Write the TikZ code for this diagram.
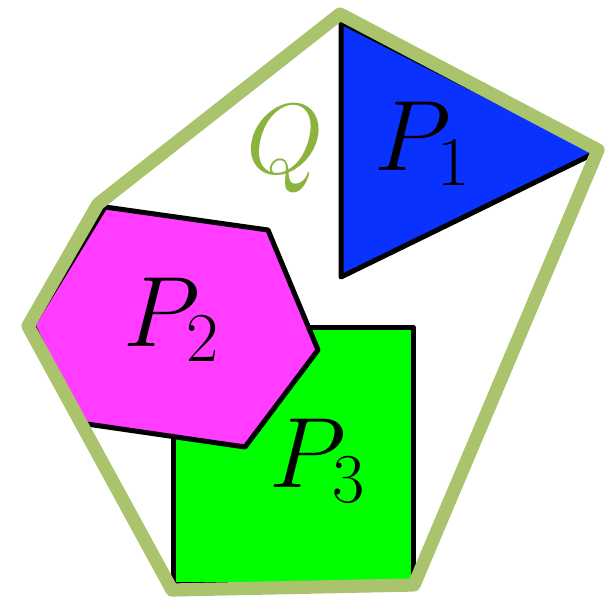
\RequirePackage{fix-cm}
\documentclass[tikz,border=0pt]{standalone}
\usetikzlibrary{calc}
\definecolor{hullc}{HTML}{A9C46C}
\definecolor{qc}{HTML}{8DB33F}
\definecolor{bluec}{HTML}{0A32FF}
\definecolor{magc}{HTML}{FF3CFF}
\definecolor{greenc}{HTML}{00FF00}
\tikzset{
  poly/.style={draw=black,line width=2.5pt,line join=round},
  hull/.style={draw=hullc,line width=6.6pt,line join=round},
  lab/.style={inner sep=0pt,anchor=base west,font=\fontsize{50}{52}\selectfont}
}
\begin{document}
\begin{tikzpicture}[x=0.5pt,y=-0.5pt]
\useasboundingbox (0,0) rectangle (610,599);
% P1 triangle
\coordinate (t1) at (341,22);
\coordinate (t2) at (597,152);
\coordinate (t3) at (341,277);
\filldraw[poly,fill=bluec] (t1) -- (t2) -- (t3) -- cycle;
% P3 square
\coordinate (s1) at (173,327);
\coordinate (s2) at (413,327);
\coordinate (s3) at (413,584);
\coordinate (s4) at (173,584);
\filldraw[poly,fill=greenc] (s1) -- (s2) -- (s3) -- (s4) -- cycle;
% P2 hexagon
\coordinate (h1) at (105,207);
\coordinate (h2) at (268,230);
\coordinate (h3) at (318,350);
\coordinate (h4) at (245,447);
\coordinate (h5) at (80,423);
\coordinate (h6) at (33,325);
\filldraw[poly,fill=magc] (h1) -- (h2) -- (h3) -- (h4) -- (h5) -- (h6) -- cycle;
% hull Q
\coordinate (q1) at (340,14);
\coordinate (q2) at (598,150);
\coordinate (q3) at (414,585);
\coordinate (q4) at (172,590);
\coordinate (q5) at (28,326);
\coordinate (q6) at (98,204);
\draw[hull] (q1) -- (q2) -- (q3) -- (q4) -- (q5) -- (q6) -- cycle;
% labels
\node[lab] (lq) at (246,173) {\textcolor{qc}{$Q$}};
\node[lab] (l1) at (374,170) {$P_1$};
\node[lab] (l2) at (123,346) {$P_2$};
\node[lab] (l3) at (269,487) {$P_3$};
\end{tikzpicture}
\end{document}
